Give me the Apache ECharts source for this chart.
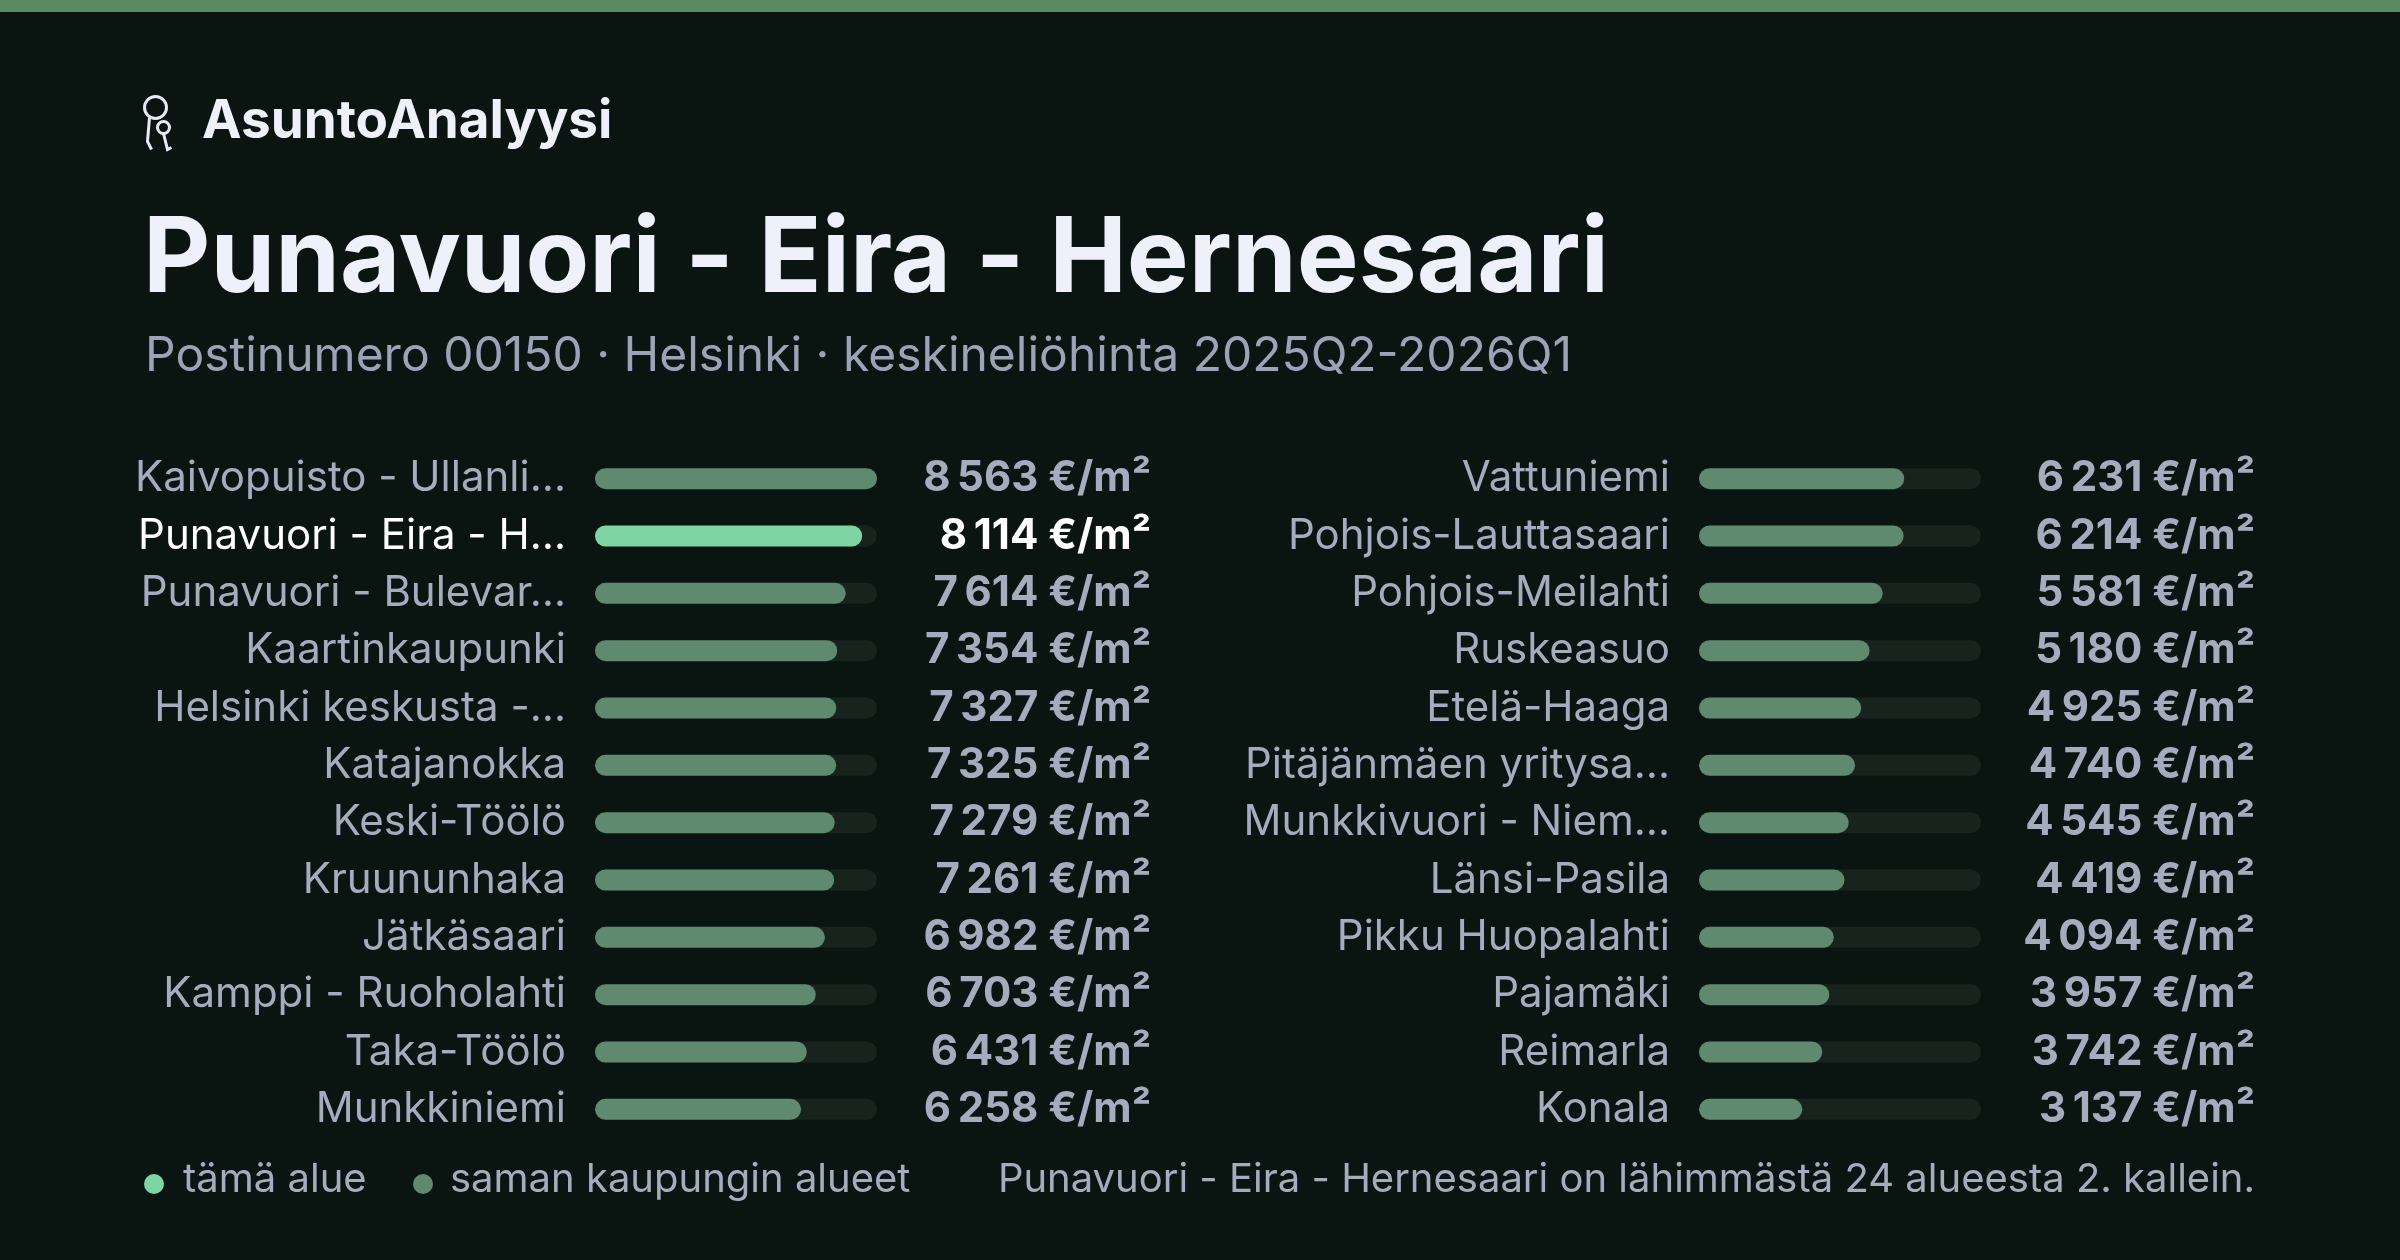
<!DOCTYPE html>
<html><head><meta charset="utf-8">
<script src="https://cdn.jsdelivr.net/npm/echarts@6/dist/echarts.min.js"></script>
<style>html,body{margin:0;background:#0a1512}#c{width:2400px;height:1260px}</style>
</head><body><div id="c"></div>
<script>
const leftNames = ["Kaivopuisto - Ullanli…","Punavuori - Eira - H…","Punavuori - Bulevar…","Kaartinkaupunki","Helsinki keskusta -…","Katajanokka","Keski-Töölö","Kruununhaka","Jätkäsaari","Kamppi - Ruoholahti","Taka-Töölö","Munkkiniemi"];
const leftValues = [8563,8114,7614,7354,7327,7325,7279,7261,6982,6703,6431,6258];
const rightNames = ["Vattuniemi","Pohjois-Lauttasaari","Pohjois-Meilahti","Ruskeasuo","Etelä-Haaga","Pitäjänmäen yritysa…","Munkkivuori - Niem…","Länsi-Pasila","Pikku Huopalahti","Pajamäki","Reimarla","Konala"];
const rightValues = [6231,6214,5581,5180,4925,4740,4545,4419,4094,3957,3742,3137];
const highlightIndex = 1; // in left list
const scaleMax = 8563;

const FONT = 'Inter';
const fmt = v => String(v).replace(/\B(?=(\d{3})+(?!\d))/g, '\u202F') + ' €/m²';

function block(gi, names, values, hl) {
  return {
    yName: {
      type:'category', gridIndex:gi, data:names, inverse:true,
      axisLine:{show:false}, axisTick:{show:false},
      axisLabel:{margin:29, fontFamily:FONT, fontSize:42,
        formatter:(v,i)=> i===hl ? '{h|'+v+'}' : '{n|'+v+'}',
        rich:{n:{color:'#a4acbe',fontFamily:FONT,fontSize:42},h:{color:'#ffffff',fontFamily:FONT,fontSize:42}}}
    },
    yVal: {
      type:'category', gridIndex:gi, data:values.map(fmt), inverse:true, position:'right',
      axisLine:{show:false}, axisTick:{show:false},
      axisLabel:{margin:274, align:'right', fontFamily:FONT, fontSize:42, fontWeight:'bold',
        formatter:(v,i)=> i===hl ? '{h|'+v+'}' : '{n|'+v+'}',
        rich:{n:{color:'#a4acbe',fontFamily:FONT,fontSize:42,fontWeight:'bold'},h:{color:'#ffffff',fontFamily:FONT,fontSize:42,fontWeight:'bold'}}}
    },
    series: {
      type:'bar', xAxisIndex:gi, yAxisIndex:gi*2, barWidth:21,
      showBackground:true, backgroundStyle:{color:'#18231e', borderRadius:11},
      data: values.map((v,i)=>({value:v, itemStyle:{color: i===hl ? '#7fd4a4' : '#5f8a6f', borderRadius:11}}))
    }
  };
}
const L = block(0, leftNames, leftValues, highlightIndex);
const R = block(1, rightNames, rightValues, -1);

const chart = echarts.init(document.getElementById('c'));
chart.setOption({
  backgroundColor:'#0a1512',
  animation:false,
  grid:[{left:595, width:282, top:450, height:688},{left:1699, width:282, top:450, height:688}],
  xAxis:[0,1].map(g=>({type:'value', gridIndex:g, min:0, max:scaleMax, show:false})),
  yAxis:[L.yName, L.yVal, R.yName, R.yVal],
  series:[L.series, R.series],
  graphic:[
    {type:'rect', left:0, top:0, shape:{width:2400,height:12}, style:{fill:'#5a8a5f'}},
    {type:'group', left:142, top:94, children:[
      {type:'circle', shape:{cx:12,cy:14,r:11}, style:{fill:'none',stroke:'#e8ebf5',lineWidth:3}},
      {type:'polyline', shape:{points:[[6,24],[4,48],[8,56]]}, style:{fill:'none',stroke:'#e8ebf5',lineWidth:3}},
      {type:'circle', shape:{cx:20,cy:34,r:6}, style:{fill:'none',stroke:'#e8ebf5',lineWidth:3}},
      {type:'polyline', shape:{points:[[20,40],[24,56],[28,54]]}, style:{fill:'none',stroke:'#e8ebf5',lineWidth:3}}
    ]},
    {type:'text', left:202, top:96, style:{text:'AsuntoAnalyysi', fill:'#eef0fa', font:'bold 53px Inter'}},
    {type:'text', left:143, top:209, style:{text:'Punavuori - Eira - Hernesaari', fill:'#eef0fa', font:'bold 104px Inter'}},
    {type:'text', left:145, top:333, style:{text:'Postinumero 00150 · Helsinki · keskineliöhinta 2025Q2-2026Q1', fill:'#9ba3b6', font:'48px Inter'}},
    {type:'circle', shape:{cx:154,cy:1184,r:10}, style:{fill:'#7fd4a4'}},
    {type:'text', left:183, top:1160, style:{text:'tämä alue', fill:'#a4acbe', font:'40px Inter'}},
    {type:'text', left:450, top:1160, style:{text:'saman kaupungin alueet', fill:'#a4acbe', font:'40px Inter'}},
    {type:'circle', shape:{cx:423,cy:1184,r:10}, style:{fill:'#5f8a6f'}},
    {type:'text', right:145, top:1160, style:{text:'Punavuori - Eira - Hernesaari on lähimmästä 24 alueesta 2. kallein.', fill:'#a4acbe', font:'40px Inter'}}
  ]
});
</script></body></html>
